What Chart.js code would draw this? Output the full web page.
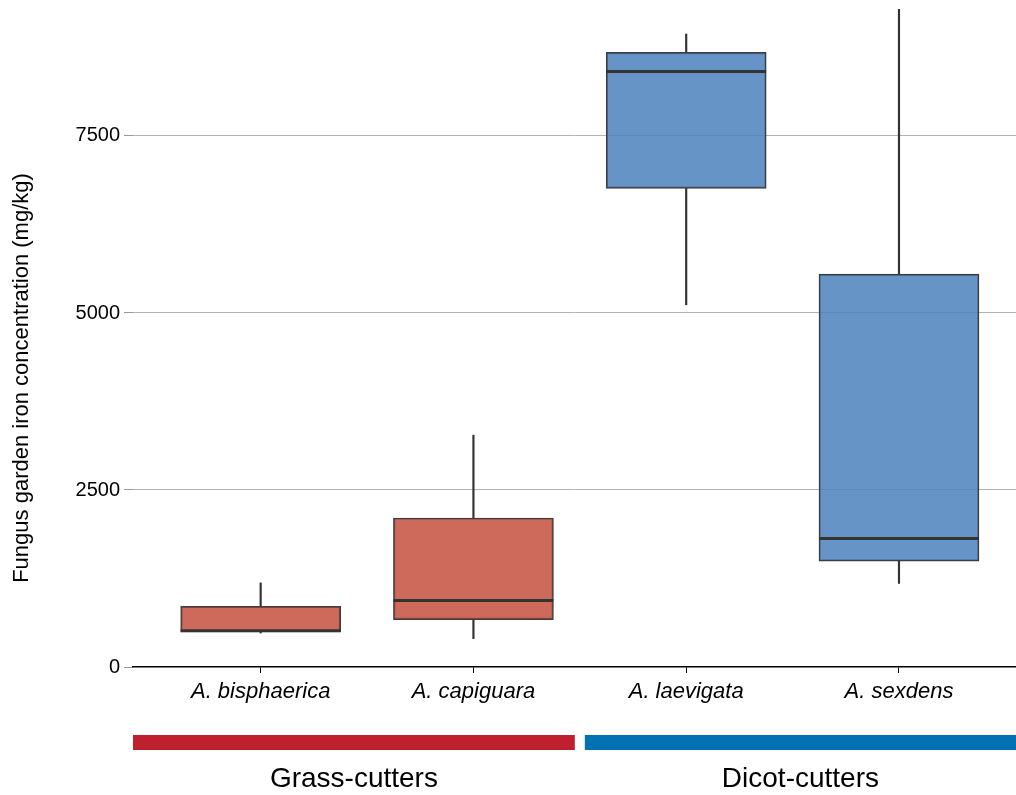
<!DOCTYPE html>
<html>
<head>
<meta charset="utf-8">
<script src="https://cdn.jsdelivr.net/npm/chart.js@4"></script>
<style>
  html, body { margin: 0; padding: 0; background: #fff; }
  #wrap { width: 1016px; height: 795px; }
</style>
</head>
<body>
<div id="wrap"><canvas id="chart" width="1016" height="795"></canvas></div>
<script>
// species and box stats (mg/kg)
const species = ['A. bisphaerica', 'A. capiguara', 'A. laevigata', 'A. sexdens'];
const groupOf = [0, 0, 1, 1];
const groupNames = ['Grass-cutters', 'Dicot-cutters'];
const whiskerLow = [480, 400, 5115, 1180];
const q1 = [495, 670, 6760, 1495];
const medians = [512, 940, 8410, 1815];
const q3 = [858, 2105, 8680, 5550];
const whiskerHigh = [1188, 3275, 8940, 9290];
const yTicks = [0, 2500, 5000, 7500];

const boxFill = ['rgba(196,80,62,0.85)', 'rgba(76,129,188,0.85)'];
const groupColors = ['#be202e', '#0072b2'];

const FONT = '"Liberation Sans", Arial, Helvetica, sans-serif';

// group bars + labels below the axis, and the y title
const groupsPlugin = {
    id: 'groups',
    afterDraw(chart) {
        const { ctx, scales: { x }, chartArea } = chart;
        ctx.save();
        groupNames.forEach((name, g) => {
            const idx = groupOf.map((v, i) => v === g ? i : -1).filter(i => i >= 0);
            const first = idx[0], last = idx[idx.length - 1];
            const x0 = first === 0 ? x.getPixelForValue(x.min) : x.getPixelForValue(first - 0.5) + 5;
            const x1 = last === species.length - 1 ? x.getPixelForValue(x.max) : x.getPixelForValue(last + 0.5) - 5;
            ctx.fillStyle = groupColors[g];
            ctx.fillRect(x0, chartArea.bottom + 68, x1 - x0, 15);
            ctx.fillStyle = '#000';
            ctx.font = '28px ' + FONT;
            ctx.textAlign = 'center';
            ctx.textBaseline = 'alphabetic';
            ctx.fillText(name, (x0 + x1) / 2, chartArea.bottom + 120);
        });
        ctx.translate(22, 378);
        ctx.rotate(-Math.PI / 2);
        ctx.font = '22px ' + FONT;
        ctx.textAlign = 'center';
        ctx.textBaseline = 'middle';
        ctx.fillStyle = '#000';
        ctx.fillText('Fungus garden iron concentration (mg/kg)', 0, 0);
        ctx.restore();
    }
};

const whiskerStyle = {
    backgroundColor: '#333',
    borderWidth: 0,
    barThickness: 1.5,
    grouped: false,
    clip: false,
    order: 2
};

new Chart(document.getElementById('chart'), {
    type: 'bar',
    data: {
        datasets: [
            {
                type: 'line',
                label: 'median',
                data: species.map((_, i) => ({ x: i, y: medians[i] })),
                showLine: false,
                pointStyle: 'line',
                pointRadius: 80,
                pointHoverRadius: 80,
                pointBorderWidth: 3,
                pointBorderColor: '#333',
                borderColor: '#333',
                order: 0
            },
            {
                label: 'box',
                data: species.map((_, i) => ({ x: i, y: [q1[i], q3[i]] })),
                backgroundColor: groupOf.map(g => boxFill[g]),
                borderColor: '#3d3d3d',
                borderWidth: 1.5,
                borderSkipped: false,
                barThickness: 160,
                grouped: false,
                order: 1
            },
            {
                label: 'lower whisker',
                data: species.map((_, i) => ({ x: i, y: [whiskerLow[i], q1[i]] })),
                ...whiskerStyle
            },
            {
                label: 'upper whisker',
                data: species.map((_, i) => ({ x: i, y: [q3[i], whiskerHigh[i]] })),
                ...whiskerStyle
            }
        ]
    },
    options: {
        responsive: false,
        animation: false,
        events: [],
        layout: { autoPadding: false, padding: { left: 0, right: 0, top: 0, bottom: 88 } },
        plugins: { legend: { display: false }, tooltip: { enabled: false } },
        scales: {
            x: {
                type: 'linear',
                offset: false,
                min: -0.6,
                max: 3.55,
                afterBuildTicks: s => { s.ticks = species.map((_, i) => ({ value: i })); },
                afterFit: s => { s.height = 40; },
                ticks: {
                    callback: v => species[v],
                    font: { family: FONT, size: 22, style: 'italic' },
                    color: '#000',
                    padding: 6,
                    maxRotation: 0,
                    autoSkip: false
                },
                grid: { offset: false, drawOnChartArea: false, drawTicks: true, tickLength: 6, tickColor: '#000', tickWidth: 1 },
                border: { display: true, color: '#000', width: 1.5 }
            },
            y: {
                min: 0,
                max: 9357,
                afterBuildTicks: s => { s.ticks = yTicks.map(v => ({ value: v })); },
                afterFit: s => { s.width = 133; },
                ticks: {
                    callback: v => String(v),
                    font: { family: FONT, size: 20, lineHeight: 0.05 },
                    color: '#000',
                    padding: 4
                },
                grid: {
                    color: c => c.tick.value === 0 ? 'rgba(0,0,0,0)' : '#b3b3b3',
                    lineWidth: 1,
                    tickLength: 9,
                    tickColor: '#999',
                    tickWidth: 1
                },
                border: { display: false }
            }
        }
    },
    plugins: [groupsPlugin]
});
</script>
</body>
</html>
